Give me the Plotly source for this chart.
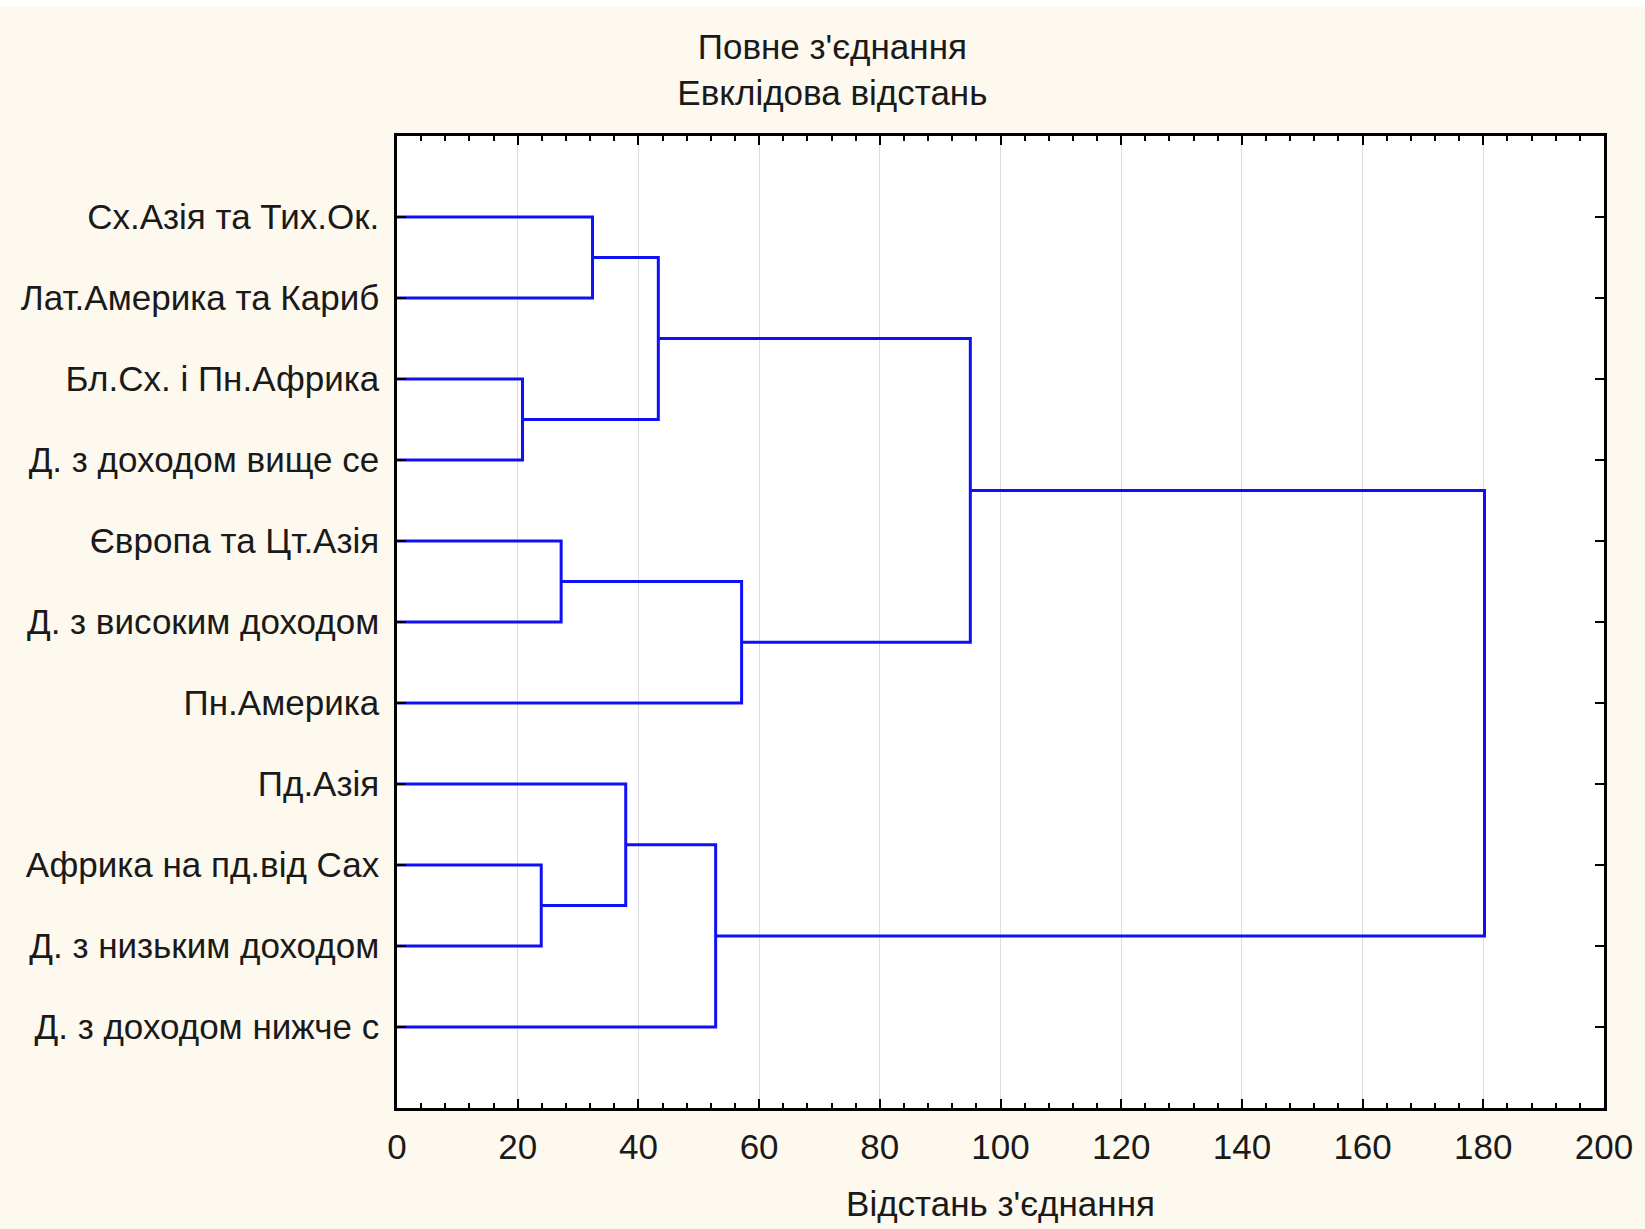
import plotly.graph_objects as go

# листя дендрограми (зверху вниз)
labels = ["Сх.Азія та Тих.Ок.", "Лат.Америка та Кариб", "Бл.Сх. і Пн.Африка",
          "Д. з доходом вище се", "Європа та Цт.Азія", "Д. з високим доходом",
          "Пн.Америка", "Пд.Азія", "Африка на пд.від Сах", "Д. з низьким доходом",
          "Д. з доходом нижче с"]

# об'єднання: кластер a + кластер b на відстані height (нові кластери 11..20)
merge_a = [2, 8, 4, 0, 7, 14, 15, 13, 16, 19]
merge_b = [3, 9, 5, 1, 12, 11, 10, 6, 18, 17]
merge_height = [20.8, 23.9, 27.2, 32.4, 37.9, 43.3, 52.8, 57.1, 95.0, 180.2]

# позиції вузлів
pos_y = {i: i + 1 for i in range(len(labels))}
pos_x = {i: 0.0 for i in range(len(labels))}
xs, ys = [], []
for k, (a, b, h) in enumerate(zip(merge_a, merge_b, merge_height)):
    node = len(labels) + k
    xs += [pos_x[a], h, h, pos_x[b], None]
    ys += [pos_y[a], pos_y[a], pos_y[b], pos_y[b], None]
    pos_x[node] = h
    pos_y[node] = (pos_y[a] + pos_y[b]) / 2

fig = go.Figure()
fig.add_trace(go.Scatter(x=xs, y=ys, mode="lines",
                         line=dict(color="#1010f5", width=3),
                         connectgaps=False, showlegend=False, hoverinfo="skip"))

font = "Liberation Sans, Arial, sans-serif"
fig.update_layout(
    width=1645, height=1229,
    margin=dict(l=397, r=38, t=136, b=109),
    paper_bgcolor="#fef9ee", plot_bgcolor="white",
    font=dict(family=font, size=35, color="#1a1a1a"),
    title=dict(text="Повне з'єднання<br>Евклідова відстань", x=0.506, xanchor="center",
               y=1 - 59 / 1229, yanchor="top", font=dict(size=35)),
)
fig.update_xaxes(range=[0, 200], dtick=20, ticks="inside", ticklen=9, tickwidth=2,
                 tickcolor="black", showline=True, linewidth=2.5, linecolor="black",
                 mirror="allticks", showgrid=True, gridcolor="#dcdcdc", gridwidth=1,
                 zeroline=False, tickfont=dict(size=35), ticklabelstandoff=6,
                 minor=dict(dtick=4, ticks="inside", ticklen=5, tickwidth=2, tickcolor="black",
                            showgrid=False),
                 title=dict(text="Відстань з'єднання", font=dict(size=35), standoff=27))
fig.update_yaxes(range=[12, 0], tickvals=list(range(1, len(labels) + 1)), ticktext=labels,
                 ticks="inside", ticklen=9, tickwidth=2, tickcolor="black",
                 showline=True, linewidth=2.5, linecolor="black", mirror="allticks",
                 showgrid=False, zeroline=False, tickfont=dict(size=35),
                 ticklabelstandoff=8)

# біла смуга вгорі сторінки
fig.add_shape(type="rect", xref="paper", yref="paper", x0=-1, x1=2,
              y0=1 + 131 / 984, y1=1 + 142 / 984, fillcolor="white", line_width=0, layer="below")

fig.write_html("out.html", config={"displayModeBar": False},
               post_script="document.body.style.margin='0';")
